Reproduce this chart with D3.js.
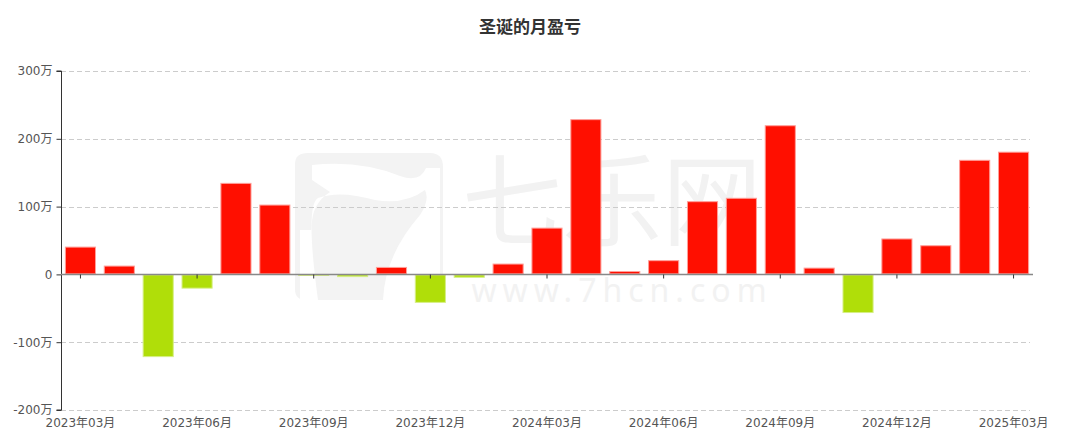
<!DOCTYPE html>
<html><head><meta charset="utf-8">
<script src="https://cdn.jsdelivr.net/npm/d3@7"></script>
<style>
html,body{margin:0;padding:0;background:#fff;}
svg text{font-family:"DejaVu Sans","Noto Sans CJK SC",sans-serif;}
</style></head>
<body>
<svg id="c" width="1070" height="444"></svg>
<script>
const title = "圣诞的月盈亏";
const months = ["2023年03月","2023年04月","2023年05月","2023年06月","2023年07月","2023年08月","2023年09月","2023年10月","2023年11月","2023年12月","2024年01月","2024年02月","2024年03月","2024年04月","2024年05月","2024年06月","2024年07月","2024年08月","2024年09月","2024年10月","2024年11月","2024年12月","2025年01月","2025年02月","2025年03月"];
const values = [41, 13, -122, -21, 135, 103, -1.5, -4, 11, -42, -5, 16, 69, 229, 5, 21, 108, 113, 220, 10, -57, 53, 43, 169, 181];
const yTicks = [-200, -100, 0, 100, 200, 300];
const xLabelMonths = ["2023年03月","2023年06月","2023年09月","2023年12月","2024年03月","2024年06月","2024年09月","2024年12月","2025年03月"];

const svg = d3.select("#c");
const L = 61, R = 1033, T = 71, B = 410;
const x = d3.scaleBand().domain(months).range([L, R]).paddingInner(0.2).paddingOuter(0.1);
const y = d3.scaleLinear().domain([-200, 300]).range([B, T]);

// watermark
const wm = svg.append("g").attr("class","wm");
wm.append("path")
  .attr("d","M308,153 L430,153 Q443,153 443,167 L443,300 L306,300 Q295,300 295,289 L295,164 Q295,153 308,153 Z")
  .attr("fill","#f3f3f3");
wm.append("path")
  .attr("d","M312,180 L312,165 Q360,160 400,176 Q420,183 426,168 L440,168 L440,300 L383,300 Q385,255 420,215 Q430,200 425,190 Q405,205 375,200 Q340,190 318,198 Q305,205 318,300 L300,300 L300,230 L312,230 Q310,205 330,192 Z")
  .attr("fill","#ffffff");
wm.append("text").attr("x",612).attr("y",238).attr("text-anchor","middle")
  .attr("font-size",100).attr("fill","#f2f2f2")
  .style("font-family","'Noto Sans CJK SC',sans-serif")
  .text("七乐网");
wm.append("text").attr("x",622).attr("y",302).attr("text-anchor","middle")
  .attr("font-size",32).attr("fill","#f2f2f2").attr("letter-spacing",6)
  .style("font-family","'Noto Sans',sans-serif")
  .text("www.7hcn.com");

// grid
svg.append("g").selectAll("line").data(yTicks.filter(d => d !== 0)).join("line")
  .attr("x1", L).attr("x2", 1030)
  .attr("y1", d => Math.round(y(d)) + 0.5).attr("y2", d => Math.round(y(d)) + 0.5)
  .attr("stroke", "#cccccc").attr("stroke-dasharray", "5,3");

// y axis
const yAxis = d3.axisLeft(y).tickValues(yTicks).tickSize(5).tickPadding(4)
  .tickFormat(d => d === 0 ? "0" : d + "万");
const gy = svg.append("g").attr("transform", `translate(${L + 0.5},0)`).call(yAxis);
gy.select(".domain").attr("stroke", "#333").attr("d", `M-5,${y(300)}H0V${y(-200)}H-5`);
gy.selectAll(".tick line").attr("stroke", "#333");
gy.selectAll(".tick text").attr("fill", "#555").attr("font-size", 12)
  .style("font-family", "'DejaVu Sans','Noto Sans CJK SC',sans-serif");

// bars
svg.append("g").selectAll("rect").data(months).join("rect")
  .attr("x", d => x(d) + 0.5)
  .attr("y", (d, i) => Math.min(y(values[i]), y(0)) + 0.5)
  .attr("width", x.bandwidth() - 1)
  .attr("height", (d, i) => Math.max(0.5, Math.abs(y(values[i]) - y(0)) - 1))
  .attr("fill", (d, i) => values[i] >= 0 ? "#ff0f00" : "#b0de09")
  .attr("stroke", (d, i) => values[i] >= 0 ? "#ff9f99" : "#d6ee86")
  .attr("stroke-width", 1);

// zero axis with ticks
const xAxis = d3.axisBottom(x).tickValues(xLabelMonths).tickSize(4).tickFormat("");
const gx = svg.append("g").attr("transform", `translate(0,${Math.round(y(0)) + 0.5})`).call(xAxis);
gx.select(".domain").attr("stroke", "#888").attr("stroke-width", 1.5).attr("d", `M${L},0H${R}`);
gx.selectAll(".tick line").attr("stroke", "#333");

// bottom labels
svg.append("g").selectAll("text").data(xLabelMonths).join("text")
  .attr("x", d => x(d) + x.bandwidth() / 2)
  .attr("y", 427)
  .attr("text-anchor", "middle")
  .attr("font-size", 12).attr("fill", "#555")
  .text(d => d);

// title
svg.append("text").attr("x", 530).attr("y", 33).attr("text-anchor", "middle")
  .attr("font-size", 17).attr("font-weight", "bold").attr("fill", "#333")
  .style("font-family", "'Noto Sans CJK SC',sans-serif")
  .text(title);
</script>
</body></html>
